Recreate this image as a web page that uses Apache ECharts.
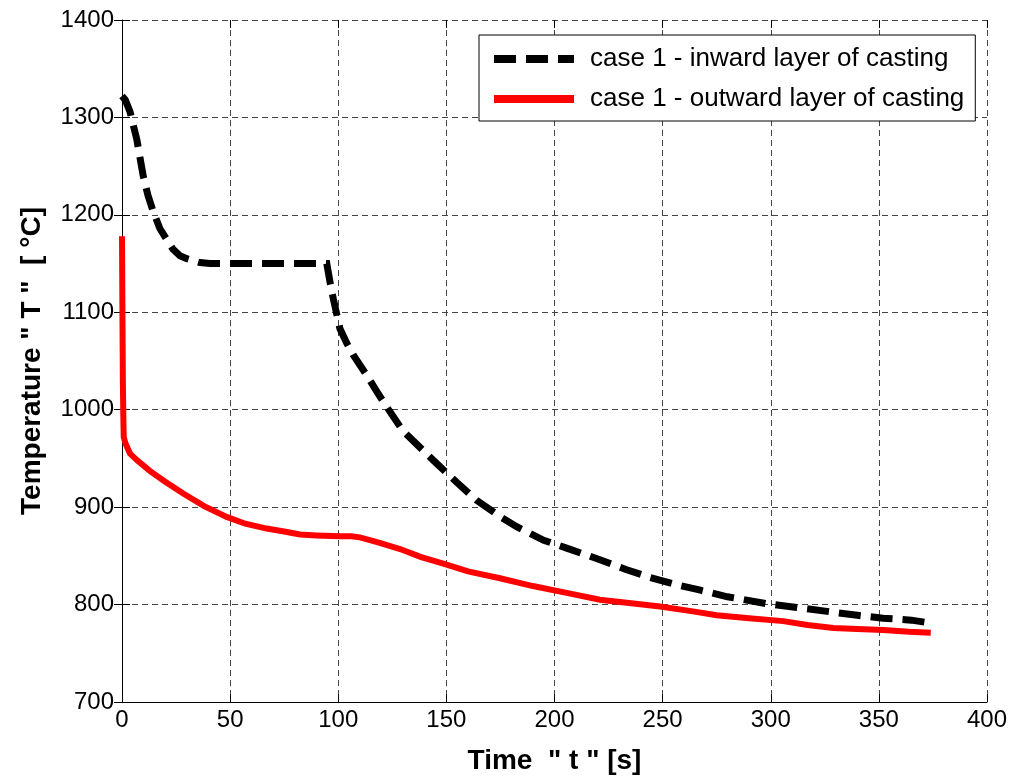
<!DOCTYPE html>
<html><head><meta charset="utf-8">
<script src="https://cdn.jsdelivr.net/npm/echarts@6/dist/echarts.min.js"></script>
<style>html,body{margin:0;padding:0;background:#fff}#c{width:1015px;height:780px}</style>
</head><body><div id="c"></div>
<script>
const seriesNames = ['case 1 - inward layer of casting', 'case 1 - outward layer of casting'];
const xTitle = 'Time  " t " [s]';
const yTitle = 'Temperature " T "  [ \u00B0C]';

const inwardTime = [0, 1.5, 3.7, 5, 6.8, 9.8, 12, 14.5, 17.5, 20.6, 23.5, 26.8, 30, 32.9, 36, 40.7, 50, 60, 70, 80, 90, 94.7, 96.2, 97.7, 100.8, 104, 107, 113, 118, 122.4, 130, 144, 155, 164, 175, 182.5, 195, 205.6, 221, 233, 244, 257, 267, 280, 298, 312, 326, 340, 352, 365, 374];
const inwardTemp = [1322, 1318, 1306, 1294, 1278, 1240, 1220, 1203, 1186, 1175, 1165, 1158, 1155, 1153, 1151, 1150, 1150, 1150, 1150, 1150, 1150, 1150, 1131, 1114, 1083, 1068, 1056, 1036, 1018, 1003, 978, 948, 925, 907, 890, 880, 866, 858, 846, 836, 828, 820, 815, 808, 801, 797, 793, 789, 786, 784, 781];

const outwardTime = [0, 0.2, 0.4, 0.6, 0.8, 1.5, 2.5, 3.7, 7, 13, 20, 28.3, 38, 48.4, 57, 66.9, 75, 82.3, 90, 100.8, 106, 110, 118, 128.6, 138, 148.6, 160, 174.8, 190, 205.6, 221, 236.5, 248.8, 264, 275, 290, 305.8, 317, 329, 340, 352, 364, 374];
const outwardTemp = [1178, 1100, 1030, 995, 972, 966, 961, 955, 948, 937, 926, 914, 901, 890, 883, 878, 875, 872, 871, 870, 870, 869, 864, 857, 849, 842, 834, 827, 819, 812, 805, 801, 798, 793, 789, 786, 783, 779, 776, 775, 774, 772, 771];

const xMin = 0, xMax = 400, xStep = 50;
const yMin = 700, yMax = 1400, yStep = 100;

const FONT = "'Liberation Sans', Arial, sans-serif";
const pair = (xs, ys) => xs.map((x, i) => [x, ys[i]]);

const chart = echarts.init(document.getElementById('c'), null, {renderer: 'canvas'});
const gridLine = {show: true, lineStyle: {color: '#444', width: 1, type: [6, 4]}};
const tick = {show: true, inside: true, length: 8, lineStyle: {color: '#000', width: 1}};
chart.setOption({
  animation: false,
  backgroundColor: '#fff',
  grid: {left: 122, right: 28, top: 20, bottom: 75, containLabel: false},
  legend: {
    orient: 'vertical', left: 479, top: 35,
    padding: [11, 11, 9, 15], itemGap: 14, itemWidth: 80, itemHeight: 8,
    borderColor: '#000', borderWidth: 1, backgroundColor: '#fff',
    formatter: n => '{a|' + n + '}',
    textStyle: {fontSize: 26, color: '#000', fontFamily: FONT,
      rich: {a: {fontSize: 26, color: '#000', fontFamily: FONT, padding: [0, 0, 0, 11]}}},
    itemStyle: {borderWidth: 0},
    data: [
      {name: seriesNames[0], icon: 'path://M0,0H22V8H0Z M32,0H54V8H32Z M64,0H80V8H64Z', itemStyle: {color: '#000', borderWidth: 0}},
      {name: seriesNames[1], icon: 'rect', itemStyle: {color: '#ff0000', borderWidth: 0}}
    ]
  },
  xAxis: [{
    type: 'value', min: xMin, max: xMax, interval: xStep,
    name: xTitle, nameLocation: 'middle', nameGap: 45,
    nameTextStyle: {fontSize: 28, fontWeight: 'bold', color: '#000', fontFamily: FONT},
    axisLine: {show: true, lineStyle: {color: '#000', width: 1}},
    axisTick: tick, splitLine: gridLine,
    axisLabel: {fontSize: 24, color: '#000', fontFamily: FONT, margin: 6, formatter: v => String(v)}
  }, {
    type: 'value', position: 'top', min: xMin, max: xMax, interval: xStep,
    axisLine: {show: false}, axisTick: tick, axisLabel: {show: false}, splitLine: {show: false}
  }],
  yAxis: [{
    type: 'value', min: yMin, max: yMax, interval: yStep,
    name: yTitle, nameLocation: 'middle', nameGap: 76,
    nameTextStyle: {fontSize: 28, fontWeight: 'bold', color: '#000', fontFamily: FONT},
    axisLine: {show: true, lineStyle: {color: '#000', width: 1}},
    axisTick: tick, splitLine: gridLine,
    axisLabel: {fontSize: 24, color: '#000', fontFamily: FONT, margin: 8, formatter: v => String(v)}
  }, {
    type: 'value', position: 'right', min: yMin, max: yMax, interval: yStep,
    axisLine: {show: false}, axisTick: tick, axisLabel: {show: false}, splitLine: {show: false}
  }],
  series: [{
    name: seriesNames[1], type: 'line', showSymbol: false, symbol: 'none',
    data: pair(outwardTime, outwardTemp),
    lineStyle: {color: '#ff0000', width: 6, cap: 'butt', join: 'miter'},
    itemStyle: {color: '#ff0000'}, z: 3
  }, {
    name: seriesNames[0], type: 'line', showSymbol: false, symbol: 'none',
    data: pair(inwardTime, inwardTemp),
    lineStyle: {color: '#000', width: 7, type: [22, 10], cap: 'butt', join: 'miter'},
    itemStyle: {color: '#000'}, z: 4
  }]
});
</script>
</body></html>
